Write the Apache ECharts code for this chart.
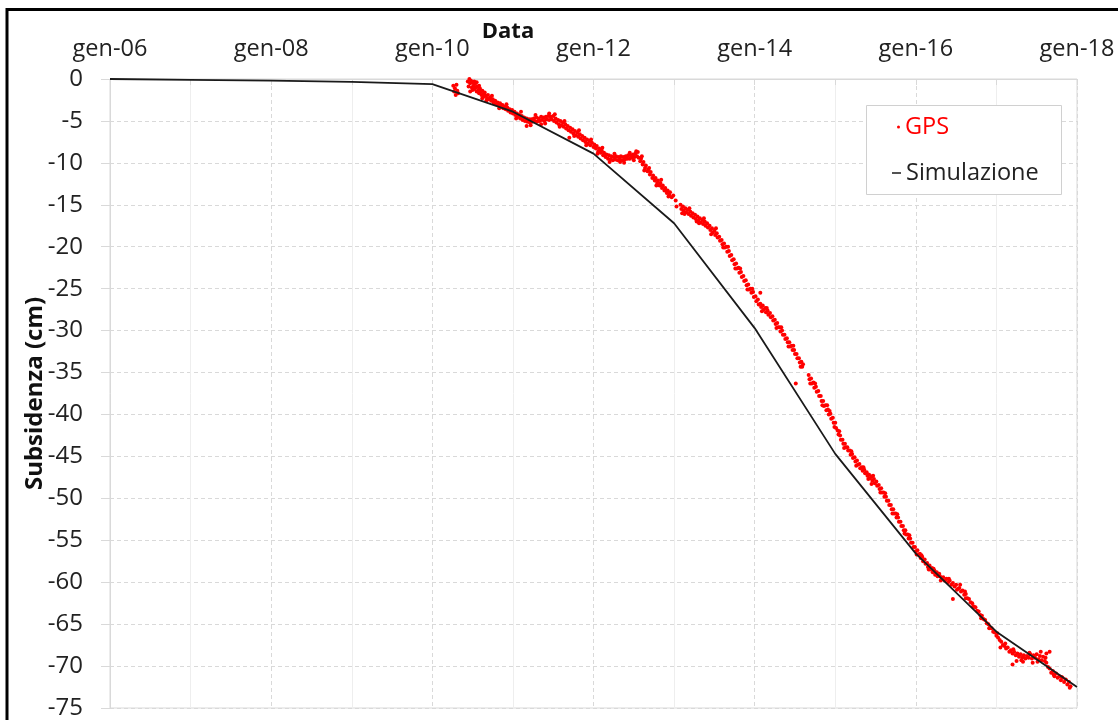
<!DOCTYPE html>
<html>
<head>
<meta charset="utf-8">
<script src="https://cdn.jsdelivr.net/npm/echarts@6/dist/echarts.min.js"></script>
<style>
html,body{margin:0;padding:0;background:#fff;}
#chart{width:1118px;height:720px;}
</style>
</head>
<body>
<div id="chart"></div>
<script>
// ---- data ----
var xTickYears = [2006, 2008, 2010, 2012, 2014, 2016, 2018];
var xTickLabels = ['gen-06', 'gen-08', 'gen-10', 'gen-12', 'gen-14', 'gen-16', 'gen-18'];
var yTickValues = [0, -5, -10, -15, -20, -25, -30, -35, -40, -45, -50, -55, -60, -65, -70, -75];

var simYears = [2006, 2007, 2008, 2009, 2010, 2011, 2012, 2013, 2014, 2015, 2016, 2017, 2018];
var simValues = [0, -0.1, -0.2, -0.35, -0.6, -3.9, -8.9, -17.2, -29.7, -44.7, -56.6, -65.9, -72.5];

var gpsPoints = [
[2010.26,-0.8],[2010.27,-1.5],[2010.28,-1.1],[2010.29,-1.9],[2010.30,-0.7],[2010.31,-1.4],[2010.32,-1.7],
[2010.44,-0.3],[2010.45,-0.9],[2010.46,0.0],[2010.47,-0.5],[2010.48,-0.2],[2010.49,-1.0],[2010.50,-0.4],[2010.51,-0.8],[2010.52,-1.2],[2010.53,-0.6],[2010.54,-1.0],[2010.55,-1.5],[2010.56,-0.9],[2010.57,-1.3],[2010.58,-1.7],[2010.59,-1.1],[2010.60,-1.5],[2010.61,-1.9],[2010.62,-1.4],[2010.63,-1.8],[2010.64,-2.1],[2010.65,-1.6],[2010.66,-2.0],[2010.68,-2.3],[2010.69,-1.9],[2010.70,-2.4],[2010.72,-2.2],[2010.73,-2.6],[2010.75,-2.4],[2010.76,-2.8],[2010.78,-2.6],[2010.79,-3.0],[2010.81,-2.8],[2010.82,-3.1],[2010.84,-2.9],[2010.85,-3.3],[2010.87,-3.1],[2010.88,-3.5],[2010.90,-3.3],[2010.91,-3.6],[2010.93,-3.4],[2010.94,-3.8],[2010.96,-3.6],[2010.97,-4.0],[2010.99,-3.7],
[2010.47,-1.5],[2010.52,-0.3],[2010.58,-0.8],[2010.62,-2.3],
[2011.00,-4.1],[2011.02,-3.9],[2011.03,-4.3],[2011.05,-4.1],[2011.06,-4.5],[2011.08,-4.3],[2011.09,-4.7],[2011.11,-4.4],[2011.12,-4.9],[2011.14,-4.6],[2011.15,-5.0],[2011.17,-4.7],[2011.18,-5.1],[2011.20,-4.8],[2011.21,-5.2],[2011.23,-4.8],[2011.24,-5.1],[2011.26,-4.7],[2011.27,-5.0],[2011.29,-4.6],[2011.30,-5.1],[2011.32,-4.7],[2011.33,-5.0],[2011.35,-4.5],[2011.36,-4.9],[2011.38,-4.6],[2011.39,-5.0],[2011.41,-4.5],[2011.42,-4.8],[2011.44,-4.4],[2011.45,-4.9],[2011.47,-4.5],[2011.48,-4.8],[2011.50,-4.4],[2011.51,-5.0],[2011.53,-4.7],[2011.54,-5.2],[2011.56,-4.9],[2011.57,-5.4],[2011.59,-5.0],[2011.60,-5.5],[2011.62,-5.2],[2011.63,-5.7],[2011.65,-5.4],[2011.66,-5.9],[2011.68,-5.6],[2011.69,-6.1],[2011.71,-5.8],[2011.72,-6.3],[2011.74,-6.0],[2011.75,-6.5],[2011.77,-6.2],[2011.78,-6.7],[2011.80,-6.4],[2011.81,-6.9],[2011.83,-6.6],[2011.84,-7.1],[2011.86,-6.8],[2011.87,-7.3],[2011.89,-7.0],[2011.90,-7.5],[2011.92,-7.2],[2011.93,-7.7],[2011.95,-7.4],[2011.96,-7.9],[2011.98,-7.6],
[2011.35,-5.4],[2011.45,-4.1],[2011.70,-7.0],[2011.17,-5.6],
[2012.00,-8.1],[2012.01,-7.8],[2012.03,-8.3],[2012.04,-8.0],[2012.06,-8.6],[2012.07,-8.3],[2012.09,-8.8],[2012.10,-8.5],[2012.12,-9.1],[2012.13,-8.8],[2012.15,-9.3],[2012.16,-9.0],[2012.18,-9.5],[2012.19,-9.1],[2012.21,-9.6],[2012.22,-9.2],[2012.24,-9.7],[2012.25,-9.3],[2012.27,-9.6],[2012.28,-9.2],[2012.30,-9.7],[2012.31,-9.3],[2012.33,-9.6],[2012.34,-9.2],[2012.36,-9.7],[2012.37,-9.3],[2012.39,-9.6],[2012.40,-9.2],[2012.42,-9.5],[2012.43,-9.1],[2012.45,-9.5],[2012.46,-9.1],[2012.48,-9.4],[2012.49,-9.0],[2012.51,-9.3],[2012.52,-8.9],[2012.54,-9.2],[2012.55,-8.7],[2012.56,-9.4],[2012.58,-9.8],[2012.59,-9.5],[2012.61,-10.2],[2012.62,-9.9],[2012.64,-10.6],[2012.65,-10.3],[2012.67,-11.0],[2012.68,-10.8],[2012.70,-11.4],[2012.71,-11.1],[2012.73,-11.8],[2012.74,-11.5],[2012.76,-12.1],[2012.77,-11.8],[2012.79,-12.4],[2012.80,-12.1],[2012.82,-12.7],[2012.83,-12.4],[2012.85,-13.0],[2012.86,-12.7],[2012.88,-13.3],[2012.89,-13.0],[2012.91,-13.6],[2012.92,-13.3],[2012.94,-13.8],[2012.95,-13.5],[2012.97,-14.1],[2012.99,-13.9],[2013.02,-14.5],
[2012.33,-9.9],[2012.45,-8.8],[2012.60,-9.2],[2013.03,-15.2],
[2013.08,-15.0],[2013.09,-15.5],[2013.11,-15.2],[2013.12,-15.7],[2013.14,-15.4],[2013.15,-15.9],[2013.17,-15.6],[2013.18,-16.1],[2013.20,-15.8],[2013.21,-16.3],[2013.23,-16.0],[2013.24,-16.5],[2013.26,-16.2],[2013.27,-16.7],[2013.29,-16.4],[2013.30,-16.9],[2013.32,-16.6],[2013.33,-17.1],[2013.35,-16.8],[2013.36,-17.3],[2013.38,-17.0],[2013.39,-17.5],[2013.41,-17.2],[2013.42,-17.7],[2013.44,-17.5],[2013.45,-18.0],[2013.47,-17.8],[2013.48,-18.3],[2013.50,-18.1],[2013.51,-18.6],[2013.53,-18.4],[2013.54,-18.9],[2013.56,-18.8],[2013.57,-19.3],[2013.59,-19.2],[2013.60,-19.7],[2013.62,-19.6],[2013.63,-20.1],[2013.65,-20.0],[2013.66,-20.6],[2013.68,-20.5],[2013.69,-21.1],[2013.71,-21.0],[2013.72,-21.6],[2013.74,-21.5],[2013.75,-22.1],[2013.77,-22.0],[2013.78,-22.6],[2013.80,-22.5],[2013.81,-23.1],[2013.83,-23.0],[2013.84,-23.6],[2013.86,-23.5],[2013.87,-24.1],[2013.89,-24.0],[2013.90,-24.6],[2013.92,-24.5],[2013.93,-25.1],[2013.95,-25.0],[2013.96,-25.5],[2013.98,-25.4],[2013.99,-26.0],[2014.01,-25.9],[2014.02,-26.5],[2014.04,-26.3],[2014.05,-26.9],
[2013.10,-16.0],[2013.28,-17.0],[2014.07,-25.5],
[2014.07,-26.8],[2014.08,-27.2],[2014.10,-27.0],[2014.11,-27.5],[2014.13,-27.3],[2014.14,-27.8],[2014.16,-27.6],[2014.17,-28.1],[2014.19,-27.9],[2014.20,-28.4],[2014.22,-28.3],[2014.23,-28.8],[2014.25,-28.7],[2014.26,-29.2],[2014.28,-29.1],[2014.29,-29.6],[2014.31,-29.6],[2014.32,-30.1],[2014.34,-30.0],[2014.35,-30.5],[2014.37,-30.5],[2014.38,-31.0],[2014.40,-30.9],[2014.41,-31.4],[2014.43,-31.4],[2014.44,-31.9],[2014.46,-31.8],[2014.47,-32.3],[2014.49,-32.3],[2014.50,-32.8],[2014.52,-32.8],[2014.53,-33.3],[2014.55,-33.3],[2014.56,-33.8],[2014.58,-33.7],[2014.59,-34.3],[2014.60,-34.0],[2014.51,-36.3],
[2014.67,-35.3],[2014.68,-35.8],[2014.70,-35.7],[2014.71,-36.3],[2014.73,-36.2],[2014.74,-36.8],[2014.76,-36.7],[2014.77,-37.3],[2014.79,-37.2],[2014.80,-37.8],[2014.82,-37.8],[2014.83,-38.4],[2014.85,-38.4],[2014.86,-39.0],[2014.88,-38.9],[2014.89,-39.5],[2014.91,-39.4],[2014.92,-40.0],[2014.94,-39.9],[2014.95,-40.5],[2014.97,-40.4],[2014.98,-41.0],[2015.00,-41.0],[2015.01,-41.6],
[2014.90,-38.9],
[2015.03,-41.9],[2015.04,-42.4],[2015.06,-42.5],[2015.07,-43.0],[2015.09,-43.0],[2015.10,-43.5],[2015.12,-43.5],[2015.13,-43.9],[2015.15,-43.9],[2015.16,-44.3],[2015.18,-44.3],[2015.19,-44.8],[2015.21,-44.7],[2015.22,-45.2],[2015.24,-45.1],[2015.25,-45.6],[2015.27,-45.5],[2015.28,-46.0],[2015.30,-45.9],[2015.31,-46.4],[2015.33,-46.3],[2015.34,-46.7],[2015.36,-46.6],[2015.37,-47.0],[2015.39,-46.9],[2015.40,-47.3],[2015.42,-47.2],[2015.43,-47.6],[2015.45,-47.4],[2015.46,-47.9],[2015.48,-47.7],[2015.49,-48.2],[2015.51,-48.0],[2015.52,-48.5],[2015.54,-48.4],[2015.55,-48.9],[2015.57,-48.8],[2015.58,-49.3],[2015.60,-49.3],[2015.61,-49.8],[2015.63,-49.8],[2015.64,-50.3],[2015.66,-50.3],[2015.67,-50.8],[2015.69,-50.8],[2015.70,-51.3],[2015.72,-51.3],[2015.73,-51.8],[2015.75,-51.8],[2015.76,-52.3],[2015.78,-52.3],[2015.79,-52.8],[2015.81,-52.8],[2015.82,-53.3],[2015.84,-53.3],[2015.85,-53.8],[2015.87,-53.8],[2015.88,-54.3],[2015.90,-54.3],[2015.91,-54.8],[2015.93,-54.8],[2015.94,-55.3],[2015.96,-55.3],[2015.97,-55.8],[2015.99,-55.8],
[2015.45,-48.3],
[2016.00,-56.3],[2016.02,-56.2],[2016.03,-56.7],[2016.05,-56.6],[2016.06,-57.1],[2016.08,-57.0],[2016.09,-57.5],[2016.11,-57.3],[2016.12,-57.8],[2016.14,-57.7],[2016.15,-58.2],[2016.17,-58.0],[2016.18,-58.5],[2016.20,-58.3],[2016.21,-58.8],[2016.23,-58.6],[2016.24,-59.1],[2016.26,-58.8],[2016.27,-59.3],[2016.29,-59.0],
[2016.30,-59.3],[2016.32,-59.6],[2016.34,-59.4],[2016.36,-59.8],[2016.38,-59.6],[2016.40,-60.0],[2016.42,-59.8],[2016.44,-60.3],[2016.46,-60.1],[2016.48,-60.5],[2016.50,-60.3],[2016.52,-60.8],[2016.54,-60.7],[2016.56,-61.1],[2016.58,-61.0],[2016.60,-61.5],[2016.62,-61.4],[2016.64,-61.9],[2016.66,-62.0],[2016.68,-62.4],[2016.70,-62.5],[2016.72,-62.9],[2016.74,-63.0],[2016.76,-63.4],[2016.78,-63.5],[2016.80,-63.9],[2016.82,-64.0],[2016.84,-64.4],[2016.86,-64.5],[2016.88,-64.9],[2016.90,-65.0],[2016.92,-65.4],[2016.94,-65.5],[2016.96,-65.9],[2016.98,-66.0],[2017.00,-66.4],[2017.02,-66.6],[2017.04,-66.9],[2017.06,-67.1],[2017.08,-67.5],[2017.10,-67.6],[2017.12,-67.9],[2017.14,-67.8],[2017.16,-68.3],[2017.18,-68.1],[2017.20,-68.5],[2017.22,-68.3],[2017.24,-68.7],[2017.26,-68.5],[2017.28,-68.9],[2017.30,-68.6],[2017.32,-69.0],[2017.34,-68.7],[2017.36,-69.1],[2017.38,-68.8],[2017.40,-69.0],[2017.42,-68.6],[2017.44,-69.1],[2017.46,-68.7],[2017.48,-69.0],[2017.50,-68.6],[2017.52,-69.2],[2017.54,-68.8],[2017.56,-69.3],[2017.58,-68.9],[2017.60,-69.4],[2017.62,-69.6],[2017.64,-70.1],[2017.66,-70.3],[2017.68,-70.8],[2017.70,-70.6],[2017.72,-71.2],[2017.74,-70.9],[2017.76,-71.4],[2017.78,-71.2],[2017.80,-71.7],[2017.82,-71.4],[2017.84,-71.9],[2017.86,-71.6],[2017.88,-72.2],[2017.90,-71.9],[2017.92,-72.4],
[2016.46,-62.0],[2017.66,-68.3],[2017.20,-69.8],[2017.25,-69.4],[2017.33,-69.5],[2017.45,-69.6],[2017.55,-68.3],[2017.62,-68.5],[2017.05,-67.8],[2016.55,-60.3],[2016.62,-61.9],
[2010.50,-1.3],[2010.55,-0.4],[2010.67,-2.6],[2010.74,-2.0],[2010.83,-3.5],[2010.92,-3.0],[2011.04,-4.7],[2011.10,-3.9],[2011.22,-5.5],[2011.28,-4.3],[2011.40,-5.3],[2011.52,-4.2],[2011.58,-5.7],[2011.64,-5.0],[2011.76,-6.8],[2011.82,-6.1],[2011.91,-7.9],[2011.97,-7.2],
[2012.05,-8.9],[2012.11,-8.2],[2012.20,-9.9],[2012.26,-8.9],[2012.38,-10.0],[2012.50,-9.7],[2012.53,-8.6],[2012.63,-10.9],[2012.69,-10.6],[2012.78,-12.7],[2012.84,-12.0],[2012.93,-14.0],
[2013.13,-16.1],[2013.19,-15.4],[2013.31,-17.2],[2013.37,-16.6],[2013.46,-18.5],[2013.52,-17.8],[2013.61,-20.1],[2013.67,-20.0],[2013.76,-22.6],[2013.82,-22.6],[2013.91,-25.1],[2013.97,-25.0],
[2014.09,-27.7],[2014.15,-27.3],[2014.27,-29.7],[2014.33,-29.6],[2014.42,-31.9],[2014.48,-31.8],[2014.57,-34.3],[2014.69,-36.3],[2014.75,-36.3],[2014.84,-38.9],[2014.93,-39.6],[2014.99,-41.5],
[2015.05,-42.0],[2015.11,-44.0],[2015.20,-44.4],[2015.26,-46.1],[2015.35,-46.3],[2015.41,-47.7],[2015.47,-47.3],[2015.56,-49.3],[2015.62,-49.4],[2015.71,-51.8],[2015.77,-51.9],[2015.86,-54.2],[2015.92,-54.4],
[2016.01,-56.7],[2016.07,-56.8],[2016.16,-58.5],[2016.22,-58.4],[2016.31,-59.8],[2016.41,-59.6],[2016.51,-60.9],[2016.61,-61.1],[2016.71,-62.9],[2016.81,-64.3],[2016.91,-65.5],
[2017.01,-66.1],[2017.11,-67.3],[2017.21,-68.0],[2017.31,-69.3],[2017.41,-68.4],[2017.51,-69.5],[2017.61,-69.0],[2017.71,-71.0],[2017.81,-71.3],[2017.91,-72.6]
];

// ---- chart ----
var FONT = '"Open Sans", "Noto Sans", sans-serif';
var chart = echarts.init(document.getElementById('chart'), null, {renderer: 'canvas'});

var simData = simYears.map(function (y, i) { return [y, simValues[i]]; });

var option = {
  backgroundColor: '#ffffff',
  animation: false,
  textStyle: {fontFamily: FONT},
  grid: {
    left: 110, right: 41, top: 79, bottom: 10,
    show: true, borderColor: '#d9d9d9', borderWidth: 1, backgroundColor: 'transparent'
  },
  xAxis: {
    type: 'value',
    position: 'top',
    min: 2006, max: 2018, interval: 2,
    axisLine: {show: true, lineStyle: {color: '#d9d9d9', width: 1}},
    axisTick: {show: true, inside: true, length: 6, lineStyle: {color: '#d9d9d9'}},
    minorTick: {show: true, splitNumber: 2, length: 6, lineStyle: {color: '#d9d9d9'}},
    axisLabel: {
      show: true, margin: 18, fontSize: 23.5, color: '#222', fontFamily: FONT,
      formatter: function (v) {
        var i = xTickYears.indexOf(Math.round(v));
        return i >= 0 ? xTickLabels[i] : '';
      }
    },
    splitLine: {show: true, lineStyle: {color: '#d9d9d9', type: [4, 3], width: 1}},
    minorSplitLine: {show: true, lineStyle: {color: '#eeeeee', width: 1}}
  },
  yAxis: {
    type: 'value',
    min: -75, max: 0, interval: 5,
    name: 'Subsidenza (cm)',
    nameLocation: 'middle',
    nameGap: 63,
    nameMoveOverlap: false,
    nameTextStyle: {fontSize: 24, fontWeight: 'bold', color: '#111', fontFamily: FONT},
    axisLine: {show: true, lineStyle: {color: '#d9d9d9', width: 1}},
    axisTick: {show: true, inside: false, length: 9, lineStyle: {color: '#d9d9d9'}},
    axisLabel: {
      margin: 27, fontSize: 24, color: '#222', fontFamily: FONT,
      formatter: function (v) {
        var i = yTickValues.indexOf(Math.round(v));
        return i >= 0 ? String(yTickValues[i]) : '';
      }
    },
    splitLine: {show: true, lineStyle: {color: '#d9d9d9', type: [4, 3], width: 1}}
  },
  legend: [
    {
      data: [{name: 'GPS', icon: 'circle', textStyle: {color: '#ff0000'}}],
      left: 897, top: 115, padding: 0, orient: 'vertical',
      itemWidth: 3, itemHeight: 3, z: 20,
      textStyle: {fontSize: 23.5, fontFamily: FONT, color: '#ff0000'}
    },
    {
      data: [{name: 'Simulazione', icon: 'rect', textStyle: {color: '#222'}}],
      left: 892, top: 161, padding: 0, orient: 'vertical',
      itemWidth: 9, itemHeight: 1.5, z: 20,
      textStyle: {fontSize: 23.5, fontFamily: FONT, color: '#222'}
    }
  ],
  graphic: [
    {
      type: 'rect', z: 10, silent: true,
      shape: {x: 866.5, y: 105.5, width: 195, height: 89},
      style: {fill: '#ffffff', stroke: '#d0d0d0', lineWidth: 1}
    },
    {
      type: 'text', z: 10, silent: true,
      x: 508, y: 32,
      style: {text: 'Data', font: 'bold 22px ' + FONT, fill: '#111', align: 'center', verticalAlign: 'middle'}
    },
    {
      type: 'rect', z: 30, silent: true,
      shape: {x: 7, y: 9.5, width: 1200, height: 800},
      style: {fill: 'none', stroke: '#000000', lineWidth: 3}
    }
  ],
  series: [
    {
      name: 'GPS',
      type: 'scatter',
      data: gpsPoints,
      symbol: 'circle',
      symbolSize: 4,
      itemStyle: {color: '#ff0000', opacity: 1},
      z: 3
    },
    {
      name: 'Simulazione',
      type: 'line',
      data: simData,
      showSymbol: false,
      symbol: 'none',
      lineStyle: {color: '#1a1a1a', width: 1.8},
      itemStyle: {color: '#1a1a1a'},
      z: 4
    }
  ]
};
chart.setOption(option);
</script>
</body>
</html>
